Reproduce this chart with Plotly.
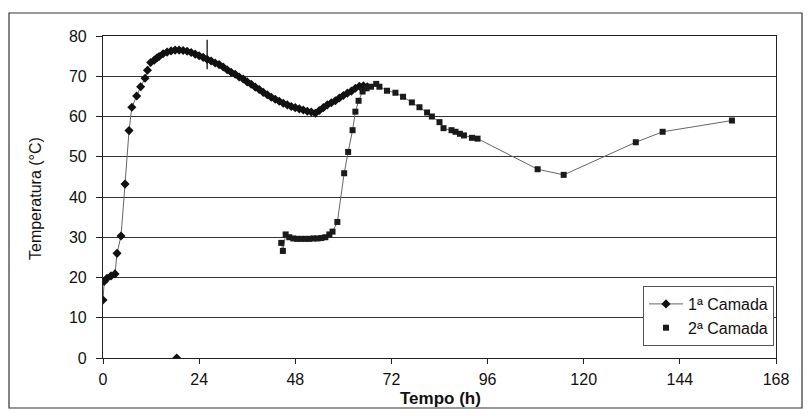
import plotly.graph_objects as go

# 1ª Camada (diamonds)
t1 = [0, 0.3, 1, 2, 3, 3.5, 4.5, 5.5, 6.5, 7.2, 8.4, 9.4, 10.5, 11.1, 11.9, 12.8, 13.5, 14,
      15, 16, 17, 18, 19, 20, 21, 22, 23, 24, 25, 26, 27, 28, 29, 30, 31, 32, 33, 34, 35,
      36, 37, 38, 39, 40, 41, 42, 43, 44, 45, 46, 47, 48, 49, 50, 51, 52, 53, 54, 55, 56,
      57, 58, 59, 60, 61, 62, 63, 64, 65, 66]
y1 = [14.4, 19.0, 19.8, 20.4, 20.9, 26.0, 30.3, 43.2, 56.5, 62.3, 65.1, 67.4, 69.5, 71.5,
      73.4, 74.0, 74.6, 74.9, 75.6, 76.0, 76.3, 76.5, 76.5, 76.4, 76.2, 75.9, 75.5, 75.1,
      74.7, 74.2, 73.8, 73.3, 72.9, 72.3, 71.6, 71.0, 70.5, 69.8, 69.3, 68.6, 68.0, 67.3,
      66.7, 66.0, 65.4, 64.8, 64.3, 63.8, 63.3, 62.9, 62.5, 62.2, 61.9, 61.6, 61.3, 61.1,
      60.8, 61.5, 62.2, 62.9, 63.4, 63.9, 64.6, 65.2, 65.8, 66.3, 67.0, 67.5, 67.6, 67.4]

# isolated reading of 1ª Camada at zero
t1_zero = [18.4]
y1_zero = [0]

# vertical tick mark on 1ª Camada curve
t_mark = [26]
y_mark = [75.4]

# 2ª Camada (squares)
t2 = [44.5, 44.9, 45.6, 46.5, 47.5, 48.5, 49.5, 50.5, 51.5, 52.5, 53.5, 54.5, 55.5, 56.5,
      57.3, 58.5, 60.2, 61.2, 62.3, 63.0, 63.8, 64.8, 65.8, 66.9, 68.2, 69.0, 70.9, 73.0,
      74.9, 77.1, 79.0, 80.9, 82.1, 84.0, 85.0, 87.0, 88.0, 89.1, 90.1, 92.1, 93.5, 108.5,
      115.0, 133.0, 139.7, 157.0]
y2 = [28.6, 26.6, 30.7, 30.0, 29.7, 29.6, 29.6, 29.6, 29.6, 29.7, 29.7, 29.8, 30.0, 30.7,
      31.4, 33.8, 45.9, 51.2, 56.6, 61.2, 63.9, 66.2, 67.0, 67.4, 68.1, 67.4, 66.4, 65.9,
      64.9, 63.5, 62.3, 61.0, 60.0, 58.6, 57.1, 56.6, 56.2, 55.7, 55.3, 54.7, 54.5, 46.9,
      45.5, 53.6, 56.2, 59.0]

x_ticks = [0, 24, 48, 72, 96, 120, 144, 168]
y_ticks = [0, 10, 20, 30, 40, 50, 60, 70, 80]

FONT = "Liberation Sans, Arial, sans-serif"

fig = go.Figure()

fig.add_trace(go.Scatter(
    x=t1, y=y1, mode="lines+markers", name="1ª Camada",
    line=dict(color="#666666", width=1),
    marker=dict(symbol="diamond", size=7, color="#111111"),
))
fig.add_trace(go.Scatter(
    x=t1_zero, y=y1_zero, mode="markers", showlegend=False,
    marker=dict(symbol="diamond", size=7, color="#111111"),
))
fig.add_trace(go.Scatter(
    x=t_mark, y=y_mark, mode="markers", showlegend=False,
    marker=dict(symbol="line-ns", size=21, color="#111111",
                line=dict(width=1.3, color="#111111")),
))
fig.add_trace(go.Scatter(
    x=t2, y=y2, mode="lines", showlegend=False,
    line=dict(color="#666666", width=1),
))
fig.add_trace(go.Scatter(
    x=t2, y=y2, mode="markers", name="2ª Camada",
    marker=dict(symbol="square", size=6, color="#1a1a1a"),
))

# plot area geometry (pixels)
L, R, T, B = 103, 776, 36, 358
W, H = R - L, B - T

def px(x):
    return (x - L) / W

def py(y):
    return (B - y) / H

fig.update_layout(
    width=812, height=416,
    margin=dict(l=L, r=812 - R, t=T, b=416 - B, autoexpand=False),
    paper_bgcolor="white", plot_bgcolor="white",
    font=dict(family=FONT, size=13, color="#111111"),
    showlegend=True,
    legend=dict(
        x=px(774), y=py(346), xanchor="right", yanchor="bottom",
        bgcolor="white", bordercolor="#555555", borderwidth=1,
        font=dict(family=FONT, size=16, color="#111111"),
        tracegroupgap=2, itemwidth=34,
    ),
    xaxis=dict(
        range=[0, 168], tickvals=x_ticks, ticktext=[str(v) for v in x_ticks],
        showgrid=False, zeroline=False, automargin=False,
        showline=True, linecolor="#222222", linewidth=1.2, mirror=True,
        ticks="outside", ticklen=5, tickcolor="#222222", ticklabelstandoff=2,
        tickfont=dict(family=FONT, size=16, color="#111111"),
    ),
    yaxis=dict(
        range=[0, 80], tickvals=y_ticks, ticktext=[str(v) for v in y_ticks],
        showgrid=True, gridcolor="#333333", gridwidth=1.2, zeroline=False, automargin=False,
        showline=True, linecolor="#222222", linewidth=1.2, mirror=True,
        ticks="outside", ticklen=6, tickcolor="#222222", ticklabelstandoff=6,
        tickfont=dict(family=FONT, size=16, color="#111111"),
    ),
    annotations=[
        dict(text="<b>Tempo (h)</b>", xref="paper", yref="paper",
             x=px(440), y=py(398), xanchor="center", yanchor="middle", showarrow=False,
             font=dict(family=FONT, size=17, color="#111111")),
        dict(text="Temperatura (°C)", xref="paper", yref="paper", textangle=-90,
             x=px(35), y=py(199), xanchor="center", yanchor="middle", showarrow=False,
             font=dict(family=FONT, size=16, color="#111111")),
    ],
    shapes=[dict(
        type="rect", xref="paper", yref="paper",
        x0=px(9), x1=px(802), y0=py(408), y1=py(13),
        line=dict(color="#333333", width=1.2), fillcolor="rgba(0,0,0,0)", layer="below",
    )],
)

fig.write_html("out.html", config={"displayModeBar": False},
               post_script="document.body.style.margin='0';document.body.style.padding='0';")
